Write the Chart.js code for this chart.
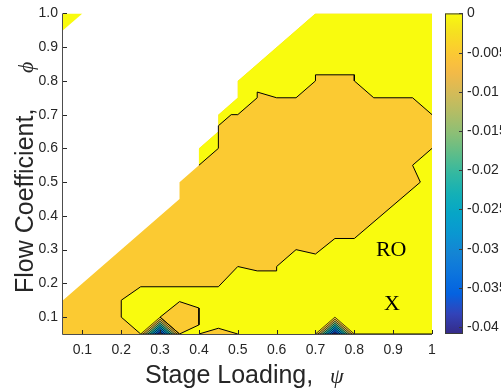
<!DOCTYPE html>
<html>
<head>
<meta charset="utf-8">
<script src="https://cdn.jsdelivr.net/npm/chart.js@4.4.1/dist/chart.umd.min.js"></script>
<style>
  html, body { margin: 0; padding: 0; background: #ffffff; }
  #wrap { width: 501px; height: 390px; }
</style>
</head>
<body>
<div id="wrap"><canvas id="c" width="501" height="390"></canvas></div>
<script>
// ---------------- chart values ----------------
const psiTicks = [0.1, 0.2, 0.3, 0.4, 0.5, 0.6, 0.7, 0.8, 0.9, 1.0];
const phiTicks = [0.1, 0.2, 0.3, 0.4, 0.5, 0.6, 0.7, 0.8, 0.9, 1.0];
const psiRange = [0.05, 1.0];
const phiRange = [0.05, 1.0];

// colour scale (colorbar) limits and ticks
const zMin = -0.0409;
const zMax = 0;
const cbTicks = [0, -0.005, -0.01, -0.015, -0.02, -0.025, -0.03, -0.035, -0.04];
const cbTickLabels = ['0', '-0.005', '-0.01', '-0.015', '-0.02', '-0.025', '-0.03', '-0.035', '-0.04'];
const contourLevels = [0, -0.005, -0.01, -0.015, -0.02, -0.025, -0.03, -0.035, -0.04];

// edge of the computed (non-NaN) region, staircase from bottom-left to top
const edgePsi = [0.05, 0.35, 0.35, 0.40, 0.40, 0.45, 0.45, 0.50, 0.50, 0.70];
const edgePhi = [0.15, 0.45, 0.50, 0.55, 0.60, 0.65, 0.70, 0.75, 0.80, 1.00];
// isolated computed corner at top-left (value 0)
const cornerPsi = [0.05, 0.05, 0.10];
const cornerPhi = [0.95, 1.00, 1.00];

// zero-level contour, upper branch
const upperPsi = [0.40, 0.45, 0.45, 0.483, 0.50, 0.55, 0.55, 0.60, 0.65, 0.70, 0.70, 0.80, 0.80, 0.85, 0.95, 1.00];
const upperPhi = [0.55, 0.60, 0.667, 0.70, 0.70, 0.75, 0.767, 0.75, 0.75, 0.80, 0.818, 0.818, 0.80, 0.75, 0.75, 0.70];
// zero-level contour, lower branch
const lowerPsi = [0.25, 0.20, 0.20, 0.25, 0.45, 0.50, 0.55, 0.60, 0.60, 0.65, 0.70, 0.75, 0.80, 0.97, 0.95, 1.00];
const lowerPhi = [0.05, 0.10, 0.15, 0.19, 0.19, 0.25, 0.237, 0.237, 0.25, 0.30, 0.287, 0.333, 0.333, 0.50, 0.55, 0.60];
// small negative island and bump inside the lower zero region
const islandPsi = [0.30, 0.35, 0.40, 0.40, 0.35, 0.30];
const islandPhi = [0.10, 0.146, 0.127, 0.077, 0.05, 0.10];
const bumpPsi = [0.40, 0.45, 0.50];
const bumpPhi = [0.05, 0.067, 0.05];
const bottomEdgePsi = [0.80, 1.00];
const bottomEdgePhi = [0.05, 0.05];

// two minima pits on the bottom row (corners: left, apex, right) and their minimum value
const pitsPsi = [[0.25, 0.30, 0.35], [0.70, 0.75, 0.80]];
const pitsPhi = [[0.05, 0.10, 0.05], [0.05, 0.10, 0.05]];
const pitCenterPsi = [0.30, 0.75];
const pitCenterPhi = [0.05, 0.05];
const pitMinValue = [-0.0409, -0.0409];

// text annotations
const noteText = ['RO', 'X'];
const notePsi = [0.895, 0.897];
const notePhi = [0.297, 0.139];

// ---------------- parula colour map ----------------
const parula = [
  [0.2081, 0.1663, 0.5292], [0.1959, 0.2645, 0.7279], [0.0117, 0.3875, 0.8820],
  [0.0498, 0.4586, 0.8641], [0.0793, 0.5200, 0.8312], [0.0343, 0.5966, 0.8199],
  [0.0228, 0.6535, 0.7768], [0.0843, 0.6928, 0.7062], [0.2178, 0.7250, 0.6193],
  [0.3953, 0.7459, 0.5244], [0.5709, 0.7485, 0.4494], [0.7184, 0.7411, 0.3905],
  [0.8507, 0.7299, 0.3360], [0.9739, 0.7314, 0.2666], [0.9880, 0.8066, 0.1794],
  [0.9589, 0.8949, 0.1132], [0.9763, 0.9831, 0.0538]
];
const parulaPos = [0, 4, 8, 12, 16, 20, 24, 28, 32, 36, 40, 44, 48, 52, 56, 60, 63].map(i => i / 63);
function parulaAt(t) {
  t = Math.max(0, Math.min(1, t));
  let k = 0;
  while (k < parulaPos.length - 2 && t > parulaPos[k + 1]) k++;
  const f = (t - parulaPos[k]) / (parulaPos[k + 1] - parulaPos[k]);
  const a = parula[k], b = parula[k + 1];
  const c = a.map((v, i) => Math.round(255 * (v + (b[i] - v) * f)));
  return 'rgb(' + c.join(',') + ')';
}
function levelColor(v) { return parulaAt((v - zMin) / (zMax - zMin)); }

// ---------------- build polygons ----------------
function pts(xs, ys) { return xs.map((x, i) => ({x: x, y: ys[i]})); }
const edgePts = pts(edgePsi, edgePhi);
const upperPts = pts(upperPsi, upperPhi);
const lowerPts = pts(lowerPsi, lowerPhi);

const fullRegion = [{x: psiRange[0], y: phiRange[0]}, {x: psiRange[1], y: phiRange[0]}, {x: psiRange[1], y: phiRange[1]}]
  .concat(edgePts.slice().reverse()).concat([{x: psiRange[0], y: phiRange[0]}]);
const startIdx = edgePts.findIndex(p => p.x === upperPts[0].x && p.y === upperPts[0].y);
const upperBand = edgePts.slice(startIdx).concat([{x: psiRange[1], y: phiRange[1]}])
  .concat(upperPts.slice().reverse());
const lowerBand = lowerPts.concat([{x: psiRange[1], y: phiRange[0]}, lowerPts[0]]);
const cornerPoly = pts(cornerPsi, cornerPhi).concat([{x: cornerPsi[0], y: cornerPhi[0]}]);

const yellow = levelColor(contourLevels[0]);
const orange = levelColor(contourLevels[1]);

const fills = [];
const lines = [];
function poly(data, color, border, bw) {
  fills.push({data: data, backgroundColor: color, borderColor: border || color, borderWidth: bw || 0, fill: 'shape'});
}
function cline(data, bw) {
  lines.push({data: data, borderColor: '#000000', borderWidth: bw || 1, fill: false});
}
poly(fullRegion, orange);
poly(cornerPoly, yellow);
poly(upperBand, yellow);
poly(lowerBand, yellow);
poly(pts(islandPsi, islandPhi), orange);
poly(pts(bumpPsi, bumpPhi).concat([{x: bumpPsi[0], y: bumpPhi[0]}]), orange);
// pits: nested triangles at each contour level
pitsPsi.forEach((xs, p) => {
  const cx = pitCenterPsi[p], cy = pitCenterPhi[p], vmin = pitMinValue[p];
  contourLevels.forEach((lev, li) => {
    if (lev < vmin) return;
    const f = (lev - vmin) / (0 - vmin);
    const tri = xs.map((x, i) => ({x: cx + (x - cx) * f, y: cy + (pitsPhi[p][i] - cy) * f}));
    tri.push(tri[0]);
    const next = contourLevels[li + 1];
    const col = levelColor(next !== undefined && next >= vmin ? next : vmin);
    fills.push({data: tri, backgroundColor: li === 0 ? orange : col, borderColor: '#000000', borderWidth: 0.7, fill: 'shape'});
  });
});
cline(upperPts);
cline(lowerPts);
cline(pts(islandPsi, islandPhi));
cline(pts(bumpPsi, bumpPhi));
cline(pts(bottomEdgePsi, bottomEdgePhi), 1.2);

const allSets = fills.concat(lines);
const N = allSets.length;
const datasets = allSets.map((d, i) => Object.assign({
  type: 'line', pointRadius: 0, pointHoverRadius: 0, tension: 0, order: N - i
}, d));

// ---------------- decorations plugin ----------------
const FONT = '"Liberation Sans", Arial, Helvetica, sans-serif';
const SERIF = '"Liberation Serif", "Times New Roman", serif';
const decor = {
  id: 'decor',
  afterDraw(chart) {
    const ctx = chart.ctx, ca = chart.chartArea;
    const sx = chart.scales.x, sy = chart.scales.y, cb = chart.scales.cb;
    ctx.save();
    // annotations
    ctx.fillStyle = '#000000';
    ctx.font = '22px ' + SERIF;
    ctx.textAlign = 'center';
    ctx.textBaseline = 'middle';
    noteText.forEach((t, i) => ctx.fillText(t, sx.getPixelForValue(notePsi[i]), sy.getPixelForValue(notePhi[i])));
    // axes lines
    ctx.strokeStyle = '#4d4d4d';
    ctx.lineWidth = 1;
    ctx.beginPath();
    ctx.moveTo(ca.left - 0.5, ca.top);
    ctx.lineTo(ca.left - 0.5, ca.bottom + 0.5);
    ctx.lineTo(ca.right, ca.bottom + 0.5);
    ctx.stroke();
    // inward ticks
    ctx.strokeStyle = '#262626';
    ctx.beginPath();
    psiTicks.forEach(v => {
      const px = Math.round(sx.getPixelForValue(v)) + 0.5;
      ctx.moveTo(px, ca.bottom); ctx.lineTo(px, ca.bottom - 4);
    });
    phiTicks.forEach(v => {
      const py = Math.round(sy.getPixelForValue(v)) + 0.5;
      ctx.moveTo(ca.left, py); ctx.lineTo(ca.left + 4, py);
    });
    ctx.stroke();
    // colorbar
    const bx0 = 445, bx1 = 463;
    const top = cb.getPixelForValue(zMax), bot = cb.getPixelForValue(zMin);
    const g = ctx.createLinearGradient(0, bot, 0, top);
    for (let i = 0; i <= 32; i++) g.addColorStop(i / 32, parulaAt(i / 32));
    ctx.fillStyle = g;
    ctx.fillRect(bx0, top, bx1 - bx0, bot - top);
    ctx.strokeStyle = '#3a3a3a';
    ctx.strokeRect(bx0 + 0.5, top + 0.5, bx1 - bx0 - 1, bot - top - 1);
    ctx.fillStyle = '#262626';
    ctx.font = '14px ' + FONT;
    ctx.textAlign = 'left';
    ctx.textBaseline = 'middle';
    ctx.beginPath();
    cbTicks.forEach((v, i) => {
      const py = Math.round(cb.getPixelForValue(v)) + 0.5;
      ctx.moveTo(bx1, py); ctx.lineTo(bx1 - 4, py);
      ctx.fillText(cbTickLabels[i], bx1 + 4, py);
    });
    ctx.stroke();
    // axis titles
    ctx.fillStyle = '#262626';
    ctx.textBaseline = 'alphabetic';
    ctx.font = '25px ' + FONT;
    ctx.fillText('Stage Loading,', 145, 383);
    ctx.font = 'italic 22px ' + SERIF;
    ctx.fillText('\u03C8', 330, 383);
    ctx.translate(33, 293);
    ctx.rotate(-Math.PI / 2);
    ctx.font = '25px ' + FONT;
    ctx.fillText('Flow Coefficient,', 0, 0);
    ctx.font = 'italic 22px ' + SERIF;
    ctx.fillText('\u03D5', 220, 0);
    ctx.restore();
  }
};

new Chart(document.getElementById('c'), {
  type: 'line',
  data: {datasets: datasets},
  options: {
    responsive: false,
    animation: false,
    events: [],
    layout: {padding: {left: 0, top: 13, right: 69, bottom: 0}},
    plugins: {legend: {display: false}, tooltip: {enabled: false}},
    scales: {
      x: {
        type: 'linear', min: psiRange[0], max: psiRange[1],
        grid: {display: false, drawTicks: false},
        border: {display: false},
        afterBuildTicks: s => { s.ticks = psiTicks.map(v => ({value: v})); },
        afterFit: s => { s.height = 56; },
        ticks: {
          padding: 8, color: '#262626', font: {family: FONT, size: 14},
          maxRotation: 0, autoSkip: false,
          callback: v => (v === 1 ? '1' : Number(v).toFixed(1))
        }
      },
      y: {
        type: 'linear', min: phiRange[0], max: phiRange[1],
        grid: {display: false, drawTicks: false},
        border: {display: false},
        afterBuildTicks: s => { s.ticks = phiTicks.map(v => ({value: v})); },
        afterFit: s => { s.width = 63; },
        ticks: {
          padding: 5, color: '#262626', font: {family: FONT, size: 14},
          autoSkip: false,
          callback: v => Number(v).toFixed(1)
        }
      },
      cb: {
        type: 'linear', position: 'right', display: false, min: zMin, max: zMax
      }
    }
  },
  plugins: [decor]
});
</script>
</body>
</html>
